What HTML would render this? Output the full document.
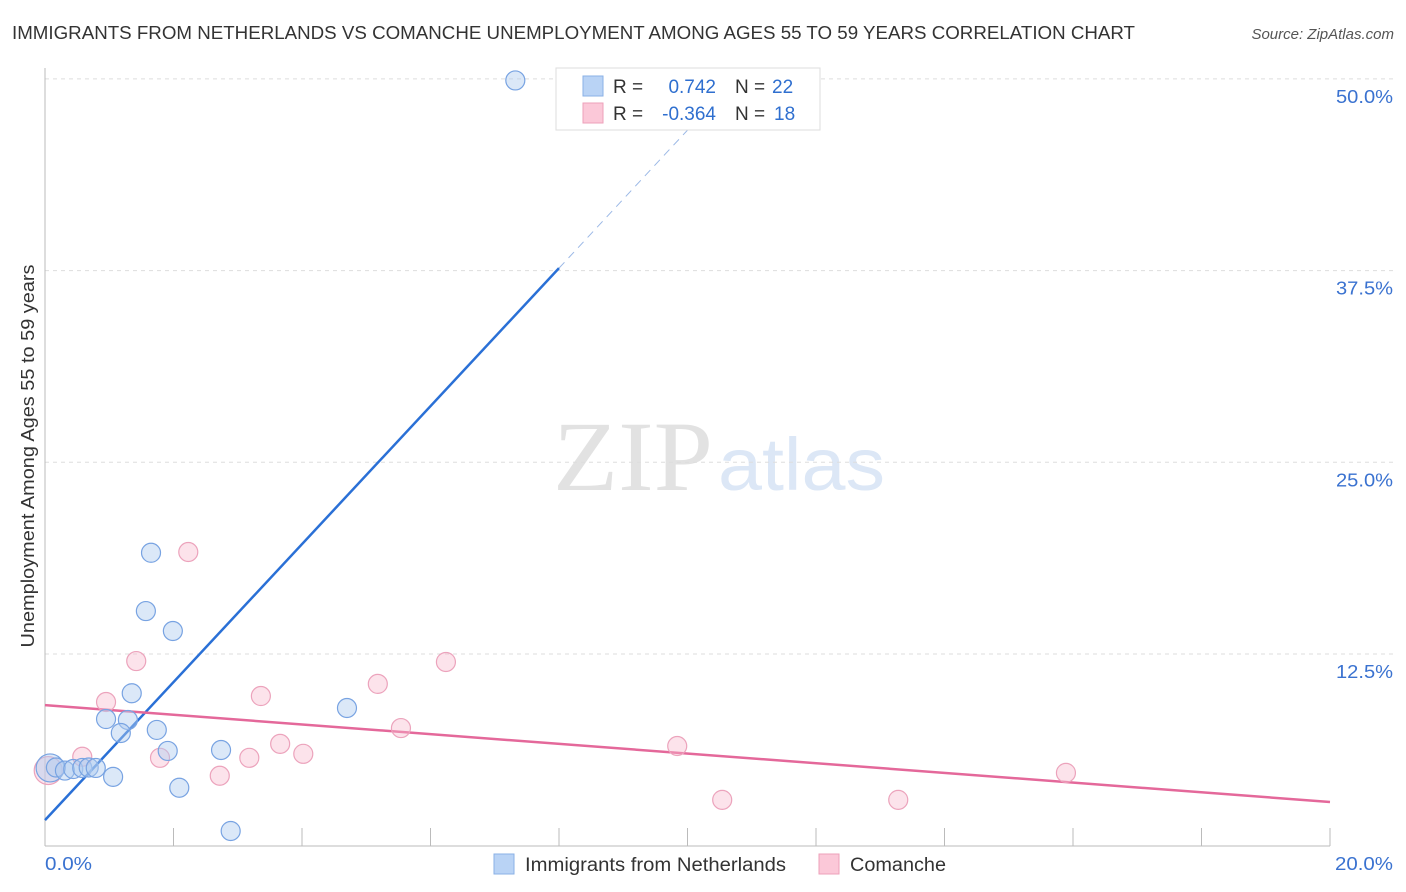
<!DOCTYPE html>
<html><head><meta charset="utf-8"><style>
body{margin:0;background:#fff;font-family:"Liberation Sans",sans-serif;}
svg{display:block}
</style></head><body>
<svg id="chart" width="1406" height="892">
<text x="12" y="39" font-size="18" fill="#333" textLength="1123" lengthAdjust="spacingAndGlyphs">IMMIGRANTS FROM NETHERLANDS VS COMANCHE UNEMPLOYMENT AMONG AGES 55 TO 59 YEARS CORRELATION CHART</text>
<text x="1394" y="39" font-size="15" fill="#555" font-style="italic" text-anchor="end">Source: ZipAtlas.com</text>
<text transform="translate(34,456) rotate(-90)" font-size="18" fill="#333" text-anchor="middle" textLength="383" lengthAdjust="spacingAndGlyphs">Unemployment Among Ages 55 to 59 years</text>
<g>
<text x="553" y="490" font-size="100" font-family="Liberation Serif,serif" fill="#e2e2e2" textLength="160" lengthAdjust="spacingAndGlyphs">ZIP</text>
<text x="718" y="490" font-size="74" fill="#dce7f6" textLength="167" lengthAdjust="spacingAndGlyphs">atlas</text>
</g>
<g id="grid"></g><g id="axes"></g><g id="lines"></g><g id="pts"></g>
<g>
<rect x="556" y="68" width="264" height="62" fill="#fff" stroke="#ddd"/>
<rect x="583" y="76" width="20" height="20" fill="#b9d3f5" stroke="#8ab0e6"/>
<rect x="583" y="103" width="20" height="20" fill="#fbc8d8" stroke="#eea0ba"/>
<text x="613" y="93" font-size="19" fill="#333">R =</text>
<text x="716" y="93" font-size="19" fill="#2f6fcf" text-anchor="end">0.742</text>
<text x="735" y="93" font-size="19" fill="#333">N =</text>
<text x="772" y="93" font-size="19" fill="#2f6fcf">22</text>
<text x="613" y="120" font-size="19" fill="#333">R =</text>
<text x="716" y="120" font-size="19" fill="#2f6fcf" text-anchor="end">-0.364</text>
<text x="735" y="120" font-size="19" fill="#333">N =</text>
<text x="774" y="120" font-size="19" fill="#2f6fcf">18</text>
</g>
<g>
<rect x="494" y="854" width="20" height="20" fill="#b9d3f5" stroke="#8ab0e6"/>
<text x="525" y="871" font-size="19" fill="#333" textLength="261" lengthAdjust="spacingAndGlyphs">Immigrants from Netherlands</text>
<rect x="819" y="854" width="20" height="20" fill="#fbc8d8" stroke="#eea0ba"/>
<text x="850" y="871" font-size="19" fill="#333" textLength="96" lengthAdjust="spacingAndGlyphs">Comanche</text>
</g>
</svg>
<script>
const yTicks=[12.5,25,37.5,50];
const yTickLabels=["12.5%","25.0%","37.5%","50.0%"];
const xTicksMinor=[2,4,6,8,10,12,14,16,18,20];
const blueX=[7.32,1.65,1.57,1.99,1.35,0.95,1.29,1.18,1.74,1.91,2.74,4.70,1.06,2.09,2.89,0.08,0.17,0.31,0.44,0.58,0.68,0.79];
const blueY=[49.9,19.1,15.3,14.0,9.94,8.26,8.2,7.35,7.55,6.18,6.24,8.98,4.49,3.78,0.96,5.07,5.1,4.9,5.0,5.07,5.1,5.07];
const pinkX=[2.23,1.42,6.24,5.18,3.36,0.95,5.54,1.79,3.66,4.02,3.18,0.58,2.72,9.84,10.54,13.28,15.89,0.05];
const pinkY=[19.15,12.04,11.98,10.55,9.76,9.37,7.67,5.73,6.64,5.99,5.73,5.80,4.56,6.5,2.99,2.99,4.75,4.9];
const blueTrend=[1.67,37.66]; // y at x=0 and x=8
const pinkTrend=[9.17,2.85]; // y at x=0 and x=20
const NS="http://www.w3.org/2000/svg";
const X=v=>45+v/20*1285, Y=v=>845.7-v/12.5*191.7;
function mk(p,t,a){const e=document.createElementNS(NS,t);for(const k in a)e.setAttribute(k,a[k]);document.getElementById(p).appendChild(e);return e;}
yTicks.forEach((t,i)=>{
 const l=mk('grid','line',{x1:45,x2:1395,y1:Y(t),y2:Y(t),stroke:'#ddd','stroke-dasharray':'4,4'});
 
 
 const tx=mk('grid','text',{x:1393,y:Y(t)+24,'font-size':18,fill:'#3a72d0','text-anchor':'end',textLength:57,lengthAdjust:'spacingAndGlyphs'});tx.textContent=yTickLabels[i];
 
 
});
mk('axes','line',{x1:45,x2:45,y1:68,y2:846,stroke:'#bbb'});
mk('axes','line',{x1:45,x2:1330,y1:846,y2:846,stroke:'#bbb'});
xTicksMinor.forEach(t=>{const l=mk('axes','line',{x1:X(t),x2:X(t),y1:828,y2:846,stroke:'#bbb'});
 
 });
let a=mk('axes','text',{x:45,y:870,'font-size':18,fill:'#3a72d0',textLength:47,lengthAdjust:'spacingAndGlyphs'});a.textContent='0.0%';


a=mk('axes','text',{x:1393,y:870,'font-size':18,fill:'#3a72d0','text-anchor':'end',textLength:58,lengthAdjust:'spacingAndGlyphs'});a.textContent='20.0%';


const bs=(blueTrend[1]-blueTrend[0])/8;
let l=mk('lines','line',{x1:X(0),y1:Y(blueTrend[0]),x2:X(8),y2:Y(blueTrend[1]),stroke:'#2a70d6','stroke-width':2.5});


l=mk('lines','line',{x1:X(8),y1:Y(blueTrend[1]),x2:X(10.4),y2:Y(blueTrend[0]+bs*10.4),stroke:'#9bb8e6','stroke-width':1,'stroke-dasharray':'8,6'});


l=mk('lines','line',{x1:X(0),y1:Y(pinkTrend[0]),x2:X(20),y2:Y(pinkTrend[1]),stroke:'#e4689a','stroke-width':2.5});


pinkX.forEach((x,i)=>{const c=mk('pts','circle',{cx:X(x),cy:Y(pinkY[i]),r:i==17?14:9.5,fill:'rgba(248,185,205,0.4)',stroke:'#eca3bc','stroke-width':1.2});
 
 });
blueX.forEach((x,i)=>{const c=mk('pts','circle',{cx:X(x),cy:Y(blueY[i]),r:i==15?14:9.5,fill:'rgba(175,203,240,0.45)',stroke:'#78a3e2','stroke-width':1.2});
 
 });
</script>
</body></html>
